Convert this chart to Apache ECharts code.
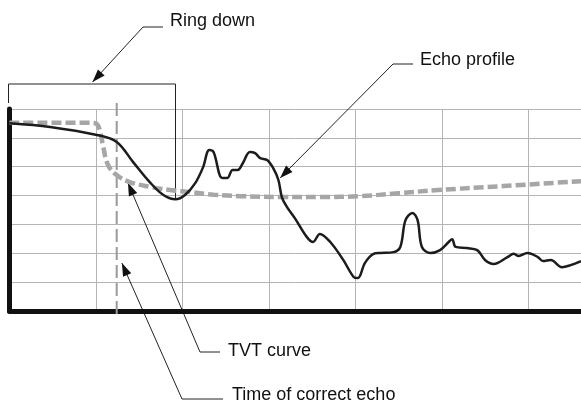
<!DOCTYPE html>
<html>
<head>
<meta charset="utf-8">
<script src="https://cdn.jsdelivr.net/npm/echarts@6/dist/echarts.min.js"></script>
<style>
html, body { margin: 0; padding: 0; background: #fff; }
#main { width: 581px; height: 404px; }
</style>
</head>
<body>
<div id="main"></div>
<script>
// echo profile (time, amplitude) in grid units (10 per cell)
var echoX = [0, 4.7, 10.1, 12.4, 14.3, 16.3, 17.8, 19.2, 20.3, 21.5, 22.4, 23.1, 23.6, 24.6, 25.2, 25.8, 26.4, 27.0, 27.8, 28.4, 29.0, 29.8, 30.5, 31.1, 31.5, 32.1, 33.0, 34.4, 35.1, 35.9, 37.1, 38.6, 39.8, 40.3, 41.1, 42.1, 42.9, 44.4, 45.2, 45.8, 46.6, 47.2, 47.7, 48.7, 49.8, 50.8, 51.2, 51.6, 52.9, 54.1, 55.0, 56.0, 57.6, 58.3, 58.9, 59.9, 61.1, 61.7, 62.6, 63.9, 64.9, 66.1];
var echoY = [65.1, 63.8, 61.0, 58.6, 51.6, 44.4, 40.2, 38.7, 40.2, 44.4, 49.9, 55.8, 55.1, 46.1, 46.1, 48.9, 48.9, 51.3, 55.1, 54.7, 53.0, 52.3, 49.5, 45.4, 39.5, 36.0, 32.2, 25.6, 23.9, 26.7, 23.9, 17.7, 11.8, 11.4, 16.6, 19.8, 20.1, 20.4, 22.2, 31.5, 34.0, 31.5, 22.2, 20.1, 21.1, 23.9, 24.9, 22.2, 21.8, 21.1, 17.7, 16.3, 18.7, 19.8, 19.1, 20.1, 18.7, 17.3, 17.7, 15.2, 15.9, 17.3];

// TVT curve
var tvtX = [0, 9.5, 10.1, 10.5, 10.8, 11.4, 12.4, 13.9, 16.3, 18.6, 20.9, 23.6, 26.7, 31.3, 36.0, 40.5, 45.0, 49.5, 57.1, 66.1];
var tvtY = [65.2, 65.2, 64.8, 62.0, 57.5, 50.6, 47.1, 44.7, 43.0, 41.9, 41.2, 40.3, 39.8, 39.5, 39.5, 39.8, 40.8, 41.9, 43.3, 45.0];

// annotation anchors, data units
var correctEchoX = 12.4;
var ringDownEnd = [19.2, 38.7];
var echoTip = [31.3, 46.1];
var tvtTip = [13.7, 44.4];
var correctTip = [13.0, 16.6];
var ringDownTipX = 9.6;

var labels = ['Ring down', 'Echo profile', 'TVT curve', 'Time of correct echo'];

function pairs(xs, ys) {
    return xs.map(function (x, i) { return [x, ys[i]]; });
}

var chartDom = document.getElementById('main');
var myChart = echarts.init(chartDom, null, { renderer: 'canvas' });

var gridColor = '#b4b4b4';
var option = {
    animation: false,
    grid: { left: 9.5, right: 0, top: 109, bottom: 93 },
    xAxis: {
        type: 'value', min: 0, max: 66.1, interval: 10,
        axisLine: { show: true, lineStyle: { color: '#111', width: 5 } },
        axisTick: { show: false }, axisLabel: { show: false },
        splitLine: { show: true, lineStyle: { color: gridColor, width: 1 } }
    },
    yAxis: {
        type: 'value', min: 0, max: 70, interval: 10,
        axisLine: { show: true, lineStyle: { color: '#111', width: 5 } },
        axisTick: { show: false }, axisLabel: { show: false },
        splitLine: { show: true, lineStyle: { color: gridColor, width: 1 } }
    },
    series: [
        {
            name: 'TVT', type: 'line', data: pairs(tvtX, tvtY),
            smooth: 0.4, symbol: 'none', z: 2,
            lineStyle: { color: '#a6a6a6', width: 4.5, type: [10, 4] }
        },
        {
            name: 'Echo', type: 'line', data: pairs(echoX, echoY),
            smooth: 0.35, symbol: 'none', z: 3,
            lineStyle: { color: '#1c1c1c', width: 2.5 }
        }
    ]
};
myChart.setOption(option);

function px(pt) {
    return myChart.convertToPixel({ gridIndex: 0 }, pt);
}

function arrowHead(from, tip) {
    var dx = tip[0] - from[0], dy = tip[1] - from[1];
    var d = Math.sqrt(dx * dx + dy * dy);
    var ux = dx / d, uy = dy / d;
    var len = 13, half = 4.5;
    var bx = tip[0] - ux * len, by = tip[1] - uy * len;
    return {
        type: 'polygon',
        shape: { points: [tip, [bx - uy * half, by + ux * half], [bx + uy * half, by - ux * half]] },
        style: { fill: '#111' }
    };
}

function leader(points) {
    return {
        type: 'polyline',
        shape: { points: points },
        style: { stroke: '#222', lineWidth: 1, fill: null }
    };
}

function label(text, x, y) {
    return {
        type: 'text', x: x, y: y,
        style: {
            text: text, fill: '#111',
            font: '18px "Liberation Sans", Arial, sans-serif',
            verticalAlign: 'middle'
        }
    };
}

var bracketTop = 84;
var left = px([0, 0])[0] - 1;
var rdEnd = px(ringDownEnd);
var cx = px([correctEchoX, 0])[0];
var rdTip = [px([ringDownTipX, 0])[0], bracketTop - 2];
var eTip = px(echoTip);
var tTip = px(tvtTip);
var cTip = px(correctTip);

var elements = [
    {
        type: 'line',
        shape: { x1: cx, y1: 103, x2: cx, y2: 316 },
        style: { stroke: '#9a9a9a', lineWidth: 2, lineDash: [13, 5] },
        z: 1
    },
    leader([[left, 103], [left, bracketTop], [rdEnd[0], bracketTop], [rdEnd[0], rdEnd[1]]]),
    leader([[163, 27], [143, 27], rdTip]), arrowHead([143, 27], rdTip),
    leader([[413, 64], [393, 64], eTip]), arrowHead([393, 64], eTip),
    leader([[220, 352], [200, 352], tTip]), arrowHead([200, 352], tTip),
    leader([[223, 399], [182, 399], cTip]), arrowHead([182, 399], cTip),
    label(labels[0], 170, 21),
    label(labels[1], 420, 60),
    label(labels[2], 228, 351),
    label(labels[3], 232, 395)
];

myChart.setOption({ graphic: { elements: elements } });
</script>
</body>
</html>
